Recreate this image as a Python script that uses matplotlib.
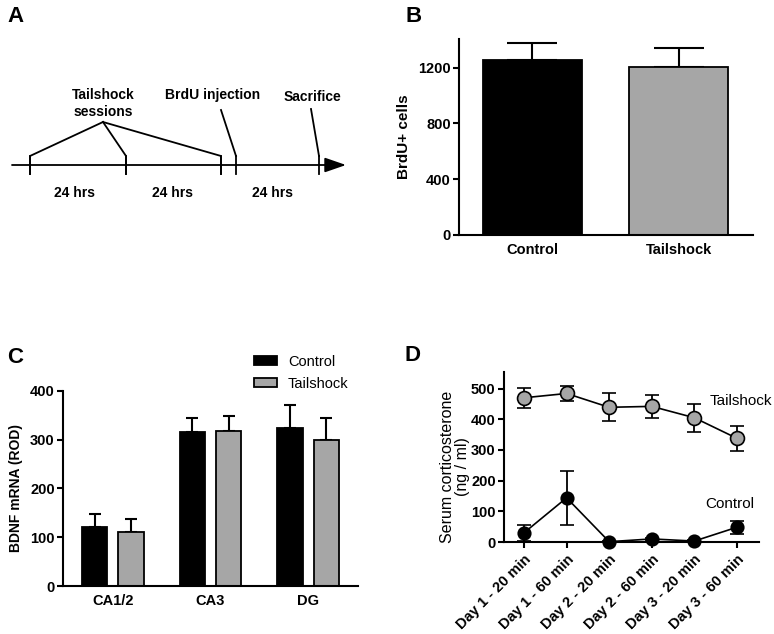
import matplotlib
matplotlib.use("Agg")
import matplotlib.pyplot as plt
import numpy as np

plt.rcParams['font.family'] = ['Liberation Sans', 'DejaVu Sans']

W, H = 774, 634
DPI = 100

# ---------------- Data ----------------
b_groups = ["Control", "Tailshock"]
b_values = [1252, 1206]
b_err = [122, 137]

c_regions = ["CA1/2", "CA3", "DG"]
c_control = [121, 315, 324]
c_control_err = [26, 29, 46]
c_tailshock = [111, 318, 300]
c_tailshock_err = [27, 31, 44]

d_times = ["Day 1 - 20 min", "Day 1 - 60 min", "Day 2 - 20 min",
           "Day 2 - 60 min", "Day 3 - 20 min", "Day 3 - 60 min"]
d_tailshock = [470, 484, 439, 442, 405, 338]
d_tailshock_err = [33, 25, 46, 38, 46, 40]
d_control = [30, 144, 1, 10, 3, 48]
d_control_err = [26, 88, 2, 4, 3, 21]

GRAY = '#a6a6a6'
FS = 10.5

fig = plt.figure(figsize=(W / DPI, H / DPI), dpi=DPI)


def ax_px(left, top, right, bottom):
    return fig.add_axes([left / W, 1 - bottom / H, (right - left) / W, (bottom - top) / H])


def style_axes(ax):
    for s in ['top', 'right']:
        ax.spines[s].set_visible(False)
    for s in ['left', 'bottom']:
        ax.spines[s].set_linewidth(1.5)
    ax.tick_params(width=1.5, length=4, direction='out')


# ---------------- Panel A (timeline schematic) ----------------
axA = fig.add_axes([0, 1 - 220 / H, 380 / W, 220 / H])
axA.set_xlim(0, 380)
axA.set_ylim(220, 0)
axA.axis('off')
lw = 1.3
axA.annotate('', xy=(346, 165), xytext=(12, 165),
             arrowprops=dict(arrowstyle='-|>,head_length=1.3,head_width=0.45',
                             lw=lw, color='black', shrinkA=0, shrinkB=0))
for xt in [30, 126, 221, 236, 319]:
    axA.plot([xt, xt], [156, 174], color='black', lw=lw)
apex = (103, 122)
for xt in [30, 126, 221]:
    axA.plot([xt, xt, apex[0]], [174, 156, apex[1]], color='black', lw=lw)
axA.plot([236, 221], [156, 110], color='black', lw=lw)
axA.plot([319, 311], [156, 109], color='black', lw=lw)
fsA = 10
axA.text(103, 95, "Tailshock", ha='center', va='center', fontsize=fsA, fontweight='bold')
axA.text(103, 112, "sessions", ha='center', va='center', fontsize=fsA, fontweight='bold')
axA.text(213, 95, "BrdU injection", ha='center', va='center', fontsize=fsA, fontweight='bold')
axA.text(312, 97, "Sacrifice", ha='center', va='center', fontsize=fsA, fontweight='bold')
for xt in [75, 173, 272]:
    axA.text(xt, 193, "24 hrs", ha='center', va='center', fontsize=fsA, fontweight='bold')

# ---------------- Panel B ----------------
axB = ax_px(459, 39, 753, 235)
style_axes(axB)
xb = np.arange(len(b_groups))
axB.bar(xb, b_values, width=0.675, color=['black', GRAY], edgecolor='black', linewidth=1.3,
        zorder=2)
axB.errorbar(xb, b_values, yerr=[np.zeros(len(b_err)), b_err], fmt='none', ecolor='black',
             elinewidth=1.5, capsize=18, capthick=1.5, zorder=1)
axB.set_xlim(-0.5, 1.505)
axB.set_ylim(0, 1405)
axB.set_yticks([0, 400, 800, 1200])
axB.set_xticks(xb)
axB.set_xticklabels(b_groups, fontsize=FS, fontweight='bold')
axB.tick_params(axis='x', length=0, pad=6)
axB.tick_params(axis='y', labelsize=FS, pad=2)
for t in axB.get_yticklabels():
    t.set_fontweight('bold')
axB.set_ylabel("BrdU+ cells", fontsize=11, fontweight='bold', labelpad=5)

# ---------------- Panel C ----------------
axC = ax_px(63, 390.7, 358, 586)
style_axes(axC)
xc = np.arange(len(c_regions))
off, bw = 0.185, 0.26
axC.bar(xc - off, c_control, width=bw, color='black', edgecolor='black', linewidth=1.3,
        label='Control', zorder=2)
axC.bar(xc + off, c_tailshock, width=bw, color=GRAY, edgecolor='black', linewidth=1.3,
        label='Tailshock', zorder=2)
axC.errorbar(xc - off, c_control, yerr=[np.zeros(3), c_control_err], fmt='none',
             ecolor='black', elinewidth=1.5, capsize=4.5, capthick=1.5, zorder=1)
axC.errorbar(xc + off, c_tailshock, yerr=[np.zeros(3), c_tailshock_err], fmt='none',
             ecolor='black', elinewidth=1.5, capsize=4.5, capthick=1.5, zorder=1)
axC.set_xlim(-0.51, 2.51)
axC.set_ylim(0, 400)
axC.set_yticks([0, 100, 200, 300, 400])
axC.set_xticks(xc)
axC.set_xticklabels(c_regions, fontsize=FS, fontweight='bold')
axC.tick_params(axis='x', length=0, pad=6)
axC.tick_params(axis='y', labelsize=FS, pad=2)
for t in axC.get_yticklabels():
    t.set_fontweight('bold')
axC.set_ylabel("BDNF mRNA (ROD)", fontsize=10, fontweight='bold', labelpad=5)
axC.legend(loc='upper left', bbox_to_anchor=(254 / W, 1 - 355 / H), bbox_transform=fig.transFigure,
           frameon=False, fontsize=FS, handlelength=1.58, handleheight=0.55,
           handletextpad=0.75, labelspacing=0.55, borderaxespad=0, borderpad=0)

# ---------------- Panel D ----------------
axD = ax_px(504, 371.7, 759, 542)
style_axes(axD)
xd = np.arange(len(d_times))
axD.errorbar(xd, d_tailshock, yerr=d_tailshock_err, fmt='-o', color='black',
             mfc=GRAY, mec='black', ms=10, mew=1.2, lw=1.2, elinewidth=1.3,
             capsize=5, capthick=1.3, zorder=3, clip_on=False)
axD.errorbar(xd, d_control, yerr=d_control_err, fmt='-o', color='black',
             mfc='black', mec='black', ms=9, mew=1.2, lw=1.2, elinewidth=1.3,
             capsize=5, capthick=1.3, zorder=3, clip_on=False)
axD.set_xlim(-0.47, 5.52)
axD.set_ylim(0, 555)
axD.set_yticks([0, 100, 200, 300, 400, 500])
axD.set_xticks(xd)
axD.set_xticklabels(d_times, rotation=45, ha='right', rotation_mode='anchor',
                    fontsize=FS, fontweight='bold')
axD.tick_params(axis='y', labelsize=FS, pad=2)
for t in axD.get_yticklabels():
    t.set_fontweight('bold')
fig.text(455 / W, 1 - 467 / H, "Serum corticosterone\n(ng / ml)", fontsize=11.5,
         rotation=90, ha='center', va='center', multialignment='center', linespacing=1.0)
axD.text(4.35, 460, "Tailshock", fontsize=FS + 0.5, ha='left', va='center')
axD.text(4.25, 125, "Control", fontsize=FS + 0.5, ha='left', va='center')

# ---------------- Panel letters ----------------
for lab, (px, py) in {"A": (7, 17), "B": (405, 17), "C": (7, 357), "D": (404, 356)}.items():
    fig.text(px / W, 1 - py / H, lab, fontsize=16, fontweight='bold', ha='left', va='center')

fig.savefig("out.png", dpi=DPI)
